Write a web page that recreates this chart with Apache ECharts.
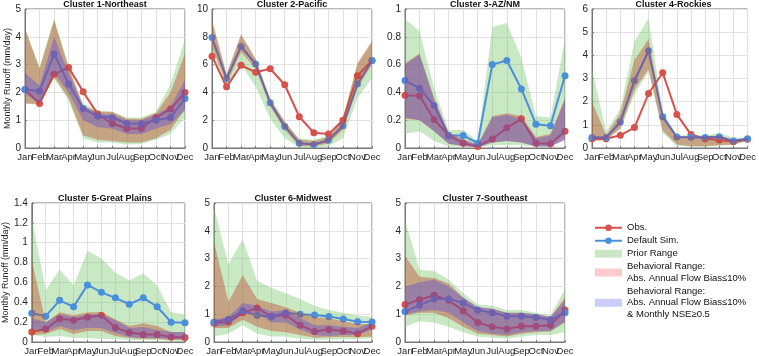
<!DOCTYPE html>
<html>
<head>
<meta charset="utf-8">
<script src="https://cdn.jsdelivr.net/npm/echarts@6/dist/echarts.min.js"></script>
<style>
  html, body { margin: 0; padding: 0; background: #fff; }
  #chart { width: 759px; height: 356px; }
</style>
</head>
<body>
<div id="chart"></div>
<script>
const months = ['Jan', 'Feb', 'Mar', 'Apr', 'May', 'Jun', 'Jul', 'Aug', 'Sep', 'Oct', 'Nov', 'Dec'];

// Cluster 1 - Northeast
const c1Obs = [2.1, 1.6, 2.65, 2.9, 2.02, 1.22, 0.88, 0.7, 0.7, 1.1, 1.4, 2.0];
const c1Sim = [2.1, 2.05, 3.38, 2.3, 1.42, 1.14, 1.1, 0.88, 0.87, 1.0, 1.1, 1.78];
const c1PriorLo = [1.6, 1.55, 2.5, 1.7, 0.35, 0.2, 0.2, 0.12, 0.15, 0.3, 0.5, 1.1];
const c1PriorHi = [4.3, 2.9, 4.65, 2.95, 1.6, 1.35, 1.3, 1.1, 1.1, 1.3, 2.3, 3.9];
const c1BehLo = [1.6, 1.58, 2.55, 1.8, 0.45, 0.3, 0.25, 0.2, 0.2, 0.35, 0.65, 1.4];
const c1BehHi = [4.3, 2.85, 4.6, 2.9, 1.5, 1.3, 1.3, 1.05, 1.05, 1.25, 2.0, 3.4];
const c1NseLo = [1.95, 1.6, 2.7, 2.0, 1.0, 0.75, 0.7, 0.5, 0.5, 0.7, 0.85, 1.35];
const c1NseHi = [2.7, 2.25, 4.0, 2.7, 1.5, 1.25, 1.2, 1.0, 1.0, 1.2, 1.5, 2.45];

// Cluster 2 - Pacific
const c2Obs = [6.6, 4.4, 5.95, 5.45, 5.7, 4.55, 2.25, 1.1, 1.0, 2.0, 5.2, 6.3];
const c2Sim = [7.95, 5.0, 7.3, 6.05, 3.25, 1.55, 0.35, 0.25, 0.55, 1.6, 4.6, 6.3];
const c2PriorLo = [6.6, 4.1, 6.0, 4.4, 2.1, 0.7, 0.05, 0.02, 0.1, 0.7, 3.6, 5.0];
const c2PriorHi = [9.1, 5.3, 8.1, 6.4, 3.6, 1.9, 0.7, 0.6, 0.9, 2.2, 6.0, 7.6];
const c2BehLo = [7.3, 4.6, 6.9, 5.7, 3.0, 1.3, 0.15, 0.1, 0.35, 1.3, 4.3, 6.0];
const c2BehHi = [9.2, 5.3, 8.2, 6.4, 3.5, 1.9, 0.6, 0.5, 0.8, 2.1, 6.1, 7.7];
const c2NseLo = [7.8, 4.9, 7.2, 5.95, 3.15, 1.45, 0.28, 0.2, 0.48, 1.5, 4.5, 6.2];
const c2NseHi = [8.1, 5.1, 7.4, 6.15, 3.35, 1.65, 0.4, 0.3, 0.62, 1.7, 4.7, 6.4];

// Cluster 3 - AZ/NM
const c3Obs = [0.38, 0.375, 0.205, 0.09, 0.035, 0.01, 0.065, 0.145, 0.21, 0.035, 0.03, 0.12];
const c3Sim = [0.485, 0.43, 0.305, 0.09, 0.09, 0.035, 0.6, 0.63, 0.425, 0.17, 0.16, 0.52];
const c3PriorLo = [0.1, 0.12, 0.05, 0.01, 0.01, 0.005, 0.02, 0.02, 0.02, 0.01, 0.01, 0.09];
const c3PriorHi = [0.93, 0.84, 0.43, 0.13, 0.13, 0.05, 0.87, 0.9, 0.65, 0.23, 0.22, 0.78];
const c3BehLo = [0.21, 0.2, 0.12, 0.03, 0.015, 0.005, 0.04, 0.05, 0.04, 0.01, 0.01, 0.06];
const c3BehHi = [0.61, 0.68, 0.36, 0.11, 0.065, 0.025, 0.23, 0.25, 0.23, 0.08, 0.1, 0.36];
const c3NseLo = [0.22, 0.2, 0.12, 0.03, 0.015, 0.005, 0.04, 0.05, 0.04, 0.01, 0.01, 0.06];
const c3NseHi = [0.6, 0.67, 0.35, 0.1, 0.06, 0.02, 0.22, 0.24, 0.21, 0.07, 0.09, 0.35];

// Cluster 4 - Rockies
const c4Obs = [0.4, 0.4, 0.55, 0.88, 2.35, 3.25, 1.45, 0.58, 0.4, 0.35, 0.27, 0.38];
const c4Sim = [0.45, 0.45, 1.12, 2.9, 4.2, 1.35, 0.48, 0.46, 0.45, 0.48, 0.3, 0.4];
const c4PriorLo = [0.3, 0.35, 0.8, 2.3, 3.3, 0.65, 0.1, 0.05, 0.05, 0.1, 0.15, 0.3];
const c4PriorHi = [3.4, 0.7, 1.7, 4.6, 5.6, 1.6, 0.55, 0.55, 0.55, 0.65, 0.45, 0.45];
const c4BehLo = [0.3, 0.35, 0.85, 2.5, 3.4, 0.75, 0.15, 0.08, 0.08, 0.12, 0.15, 0.3];
const c4BehHi = [2.0, 0.55, 1.5, 3.8, 4.7, 1.4, 0.5, 0.5, 0.5, 0.55, 0.35, 0.42];
const c4NseLo = [0.4, 0.4, 1.05, 2.8, 4.1, 1.25, 0.43, 0.42, 0.4, 0.44, 0.26, 0.35];
const c4NseHi = [0.5, 0.5, 1.2, 3.0, 4.3, 1.45, 0.5, 0.5, 0.5, 0.52, 0.35, 0.45];

// Cluster 5 - Great Plains
const c5Obs = [0.1, 0.13, 0.235, 0.22, 0.25, 0.27, 0.145, 0.095, 0.075, 0.075, 0.05, 0.045];
const c5Sim = [0.29, 0.26, 0.42, 0.355, 0.575, 0.5, 0.445, 0.38, 0.445, 0.355, 0.2, 0.195];
const c5PriorLo = [0.07, 0.05, 0.06, 0.04, 0.04, 0.03, 0.03, 0.02, 0.02, 0.02, 0.01, 0.01];
const c5PriorHi = [1.25, 0.52, 0.73, 0.57, 0.92, 0.84, 0.7, 0.62, 0.69, 0.57, 0.3, 0.28];
const c5BehLo = [0.07, 0.08, 0.13, 0.08, 0.11, 0.11, 0.06, 0.04, 0.03, 0.03, 0.02, 0.02];
const c5BehHi = [0.82, 0.2, 0.3, 0.27, 0.3, 0.3, 0.23, 0.16, 0.19, 0.16, 0.1, 0.1];
const c5NseLo = [0.13, 0.1, 0.16, 0.12, 0.14, 0.14, 0.09, 0.05, 0.04, 0.04, 0.03, 0.03];
const c5NseHi = [0.24, 0.2, 0.28, 0.25, 0.28, 0.28, 0.22, 0.14, 0.15, 0.12, 0.1, 0.1];

// Cluster 6 - Midwest
const c6Obs = [0.67, 0.72, 1.05, 1.22, 0.92, 0.97, 0.6, 0.38, 0.45, 0.4, 0.3, 0.57];
const c6Sim = [0.72, 0.82, 1.12, 0.95, 0.92, 1.05, 1.0, 0.97, 0.92, 0.83, 0.73, 0.72];
const c6PriorLo = [0.2, 0.3, 0.6, 0.3, 0.2, 0.2, 0.12, 0.08, 0.08, 0.1, 0.1, 0.15];
const c6PriorHi = [4.85, 2.8, 3.7, 2.2, 1.95, 1.75, 1.55, 1.3, 1.15, 1.05, 0.95, 0.9];
const c6BehLo = [0.5, 0.5, 0.8, 0.55, 0.4, 0.35, 0.25, 0.15, 0.17, 0.18, 0.17, 0.2];
const c6BehHi = [3.6, 1.45, 2.4, 1.55, 1.4, 1.25, 1.05, 0.9, 0.85, 0.75, 0.65, 0.65];
const c6NseLo = [0.55, 0.6, 1.0, 1.05, 0.7, 0.7, 0.45, 0.25, 0.22, 0.25, 0.25, 0.45];
const c6NseHi = [0.8, 0.9, 1.4, 1.3, 1.1, 1.15, 0.85, 0.6, 0.6, 0.55, 0.5, 0.7];

// Cluster 7 - Southeast
const c7Obs = [1.35, 1.52, 1.68, 1.5, 1.12, 0.7, 0.55, 0.47, 0.57, 0.57, 0.6, 1.15];
const c7Sim = [1.1, 1.32, 1.55, 1.55, 1.4, 1.15, 1.05, 0.93, 0.93, 0.88, 0.8, 1.05];
const c7PriorLo = [0.55, 0.75, 0.7, 0.55, 0.35, 0.2, 0.15, 0.12, 0.2, 0.25, 0.25, 0.35];
const c7PriorHi = [4.4, 2.6, 2.55, 2.25, 1.75, 1.35, 1.3, 1.15, 1.15, 1.05, 0.95, 1.9];
const c7BehLo = [0.95, 1.05, 1.05, 0.85, 0.55, 0.3, 0.25, 0.2, 0.3, 0.35, 0.38, 0.7];
const c7BehHi = [3.1, 2.35, 2.3, 2.1, 1.6, 1.25, 1.2, 1.05, 1.05, 1.0, 0.9, 1.6];
const c7NseLo = [1.0, 1.1, 1.15, 1.05, 0.7, 0.4, 0.3, 0.25, 0.35, 0.4, 0.4, 0.75];
const c7NseHi = [2.0, 2.15, 2.25, 2.0, 1.6, 1.25, 1.2, 1.05, 1.05, 1.0, 0.9, 1.5];

const titles = ['Cluster 1-Northeast', 'Cluster 2-Pacific', 'Cluster 3-AZ/NM', 'Cluster 4-Rockies',
  'Cluster 5-Great Plains', 'Cluster 6-Midwest', 'Cluster 7-Southeast'];
const yMax = [5, 10, 1, 6, 1.4, 5, 5];
const yStep = [1, 2, 0.2, 1, 0.2, 1, 1];

const panels = [
  [c1Obs, c1Sim, c1PriorLo, c1PriorHi, c1BehLo, c1BehHi, c1NseLo, c1NseHi],
  [c2Obs, c2Sim, c2PriorLo, c2PriorHi, c2BehLo, c2BehHi, c2NseLo, c2NseHi],
  [c3Obs, c3Sim, c3PriorLo, c3PriorHi, c3BehLo, c3BehHi, c3NseLo, c3NseHi],
  [c4Obs, c4Sim, c4PriorLo, c4PriorHi, c4BehLo, c4BehHi, c4NseLo, c4NseHi],
  [c5Obs, c5Sim, c5PriorLo, c5PriorHi, c5BehLo, c5BehHi, c5NseLo, c5NseHi],
  [c6Obs, c6Sim, c6PriorLo, c6PriorHi, c6BehLo, c6BehHi, c6NseLo, c6NseHi],
  [c7Obs, c7Sim, c7PriorLo, c7PriorHi, c7BehLo, c7BehHi, c7NseLo, c7NseHi]
];

// grid boxes in px
const boxes = [
  { left: 25, top: 9, width: 160 },
  { left: 212, top: 9, width: 160 },
  { left: 405, top: 9, width: 160 },
  { left: 592, top: 9, width: 163 },
  { left: 25, top: 203, width: 160 },
  { left: 214, top: 203, width: 158 },
  { left: 405, top: 203, width: 160 }
];
const plotH = 139;

const OBS = 'Obs.';
const SIM = 'Default Sim.';
const PRIOR = 'Prior Range';
const BEH = 'Behavioral Range:\nAbs. Annual Flow Bias≤10%';
const NSE = 'Behavioral Range:\nAbs. Annual Flow Bias≤10%\n& Monthly NSE≥0.5';

const obsColor = '#d6524c';
const simColor = '#4a8fdc';
const fontFamily = '"Liberation Sans", Arial, sans-serif';

function band(i, lo, hi, name, color, z) {
  const stack = 'p' + i + name;
  return [
    {
      type: 'line', xAxisIndex: i, yAxisIndex: i, stack: stack, data: lo,
      symbol: 'none', lineStyle: { opacity: 0 }, silent: true, z: z
    },
    {
      type: 'line', name: name, xAxisIndex: i, yAxisIndex: i, stack: stack,
      data: hi.map((v, k) => +(v - lo[k]).toFixed(4)),
      symbol: 'none', lineStyle: { opacity: 0 }, color: color,
      areaStyle: { color: color, opacity: 1 }, silent: true, z: z
    }
  ];
}

function line(i, data, name, color) {
  return {
    type: 'line', name: name, xAxisIndex: i, yAxisIndex: i, data: data,
    symbol: 'circle', symbolSize: 7, color: color,
    lineStyle: { width: 2, color: color }, itemStyle: { color: color }, z: 2
  };
}

const grid = [], xAxis = [], yAxis = [], title = [];
let series = [];

panels.forEach((p, i) => {
  const b = boxes[i];
  grid.push({
    left: b.left, top: b.top, width: b.width, height: plotH,
    show: true, borderColor: '#777', borderWidth: 1, backgroundColor: '#fff'
  });
  xAxis.push({
    type: 'category', gridIndex: i, data: months, boundaryGap: false,
    axisLine: { lineStyle: { color: '#777' } },
    axisTick: { inside: true, length: 2, lineStyle: { color: '#777' } },
    axisLabel: { interval: 0, fontSize: 9.5, color: '#262626', margin: 4, fontFamily: fontFamily },
    splitLine: { show: true, lineStyle: { color: '#e2e2e2' } }
  });
  yAxis.push({
    type: 'value', gridIndex: i, min: 0, max: yMax[i], interval: yStep[i],
    axisLine: { show: true, lineStyle: { color: '#777' } },
    axisTick: { show: true, inside: true, length: 2, lineStyle: { color: '#777' } },
    axisLabel: { fontSize: 10, color: '#262626', margin: 4, fontFamily: fontFamily },
    splitLine: { show: true, lineStyle: { color: '#e2e2e2' } },
    name: (i === 0 || i === 4) ? 'Monthly Runoff (mm/day)' : '',
    nameLocation: 'middle', nameGap: i === 0 ? 10 : 14,
    nameTextStyle: { fontSize: 9, color: '#262626', fontFamily: fontFamily }
  });
  title.push({
    text: titles[i], left: b.left + b.width / 2, top: b.top - 9, textAlign: 'center', padding: 0,
    textStyle: { fontSize: 9, fontWeight: 'bold', color: '#111', fontFamily: fontFamily }
  });

  const [obs, sim, pLo, pHi, bLo, bHi, nLo, nHi] = p;
  series = series.concat(
    band(i, pLo, pHi, PRIOR, 'rgba(120,200,110,0.4)', 1),
    [line(i, obs, OBS, obsColor), line(i, sim, SIM, simColor)],
    band(i, bLo, bHi, BEH, 'rgba(190,70,40,0.42)', 3),
    band(i, nLo, nHi, NSE, 'rgba(95,75,220,0.4)', 4)
  );
});

const chart = echarts.init(document.getElementById('chart'), null, { renderer: 'canvas' });
chart.setOption({
  animation: false,
  backgroundColor: '#fff',
  title: title,
  grid: grid,
  xAxis: xAxis,
  yAxis: yAxis,
  legend: {
    orient: 'vertical', left: 594, top: 222, padding: 0,
    itemWidth: 27, itemHeight: 8, itemGap: 1.5,
    textStyle: { fontSize: 9.5, lineHeight: 11.5, color: '#111', fontFamily: fontFamily },
    data: [
      { name: OBS },
      { name: SIM },
      { name: PRIOR, icon: 'rect', itemStyle: { color: '#c8e8c4', opacity: 1 } },
      { name: BEH, icon: 'rect', itemStyle: { color: '#ffcccc', opacity: 1 } },
      { name: NSE, icon: 'rect', itemStyle: { color: '#ccccff', opacity: 1 } }
    ]
  },
  series: series
});
</script>
</body>
</html>
